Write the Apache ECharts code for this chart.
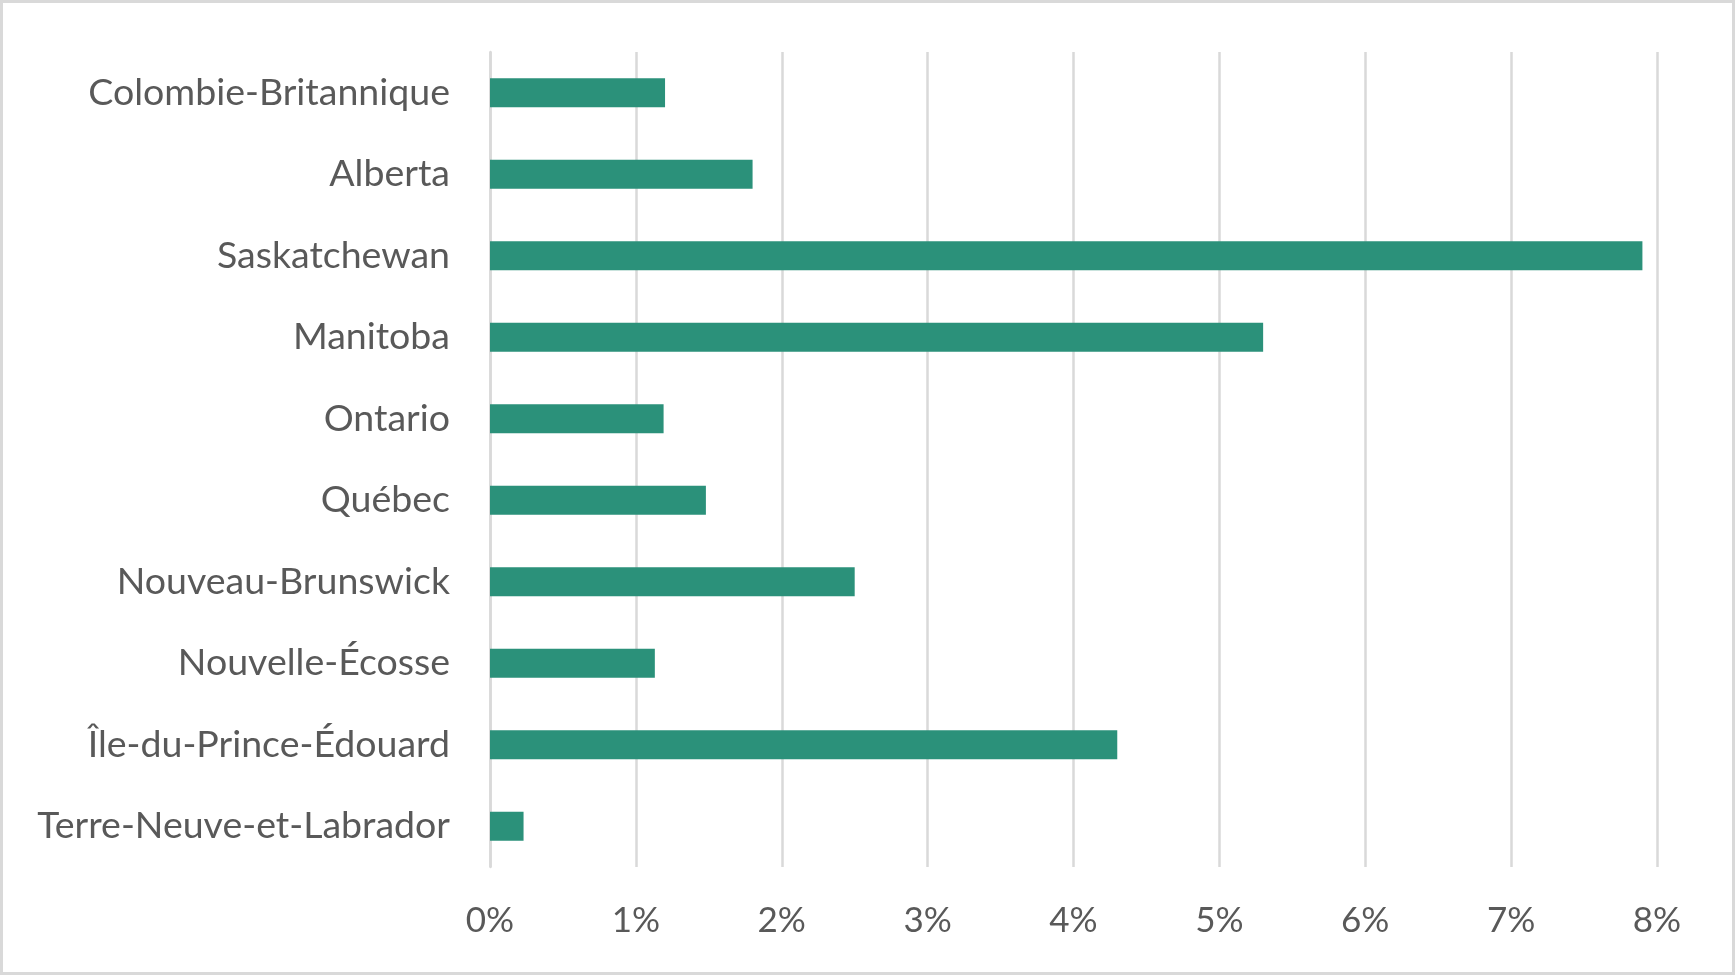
<!DOCTYPE html>
<html>
<head>
<meta charset="utf-8">
<script src="https://cdn.jsdelivr.net/npm/echarts@6/dist/echarts.min.js"></script>
<style>
html,body{margin:0;padding:0;background:#fff;}
#chart{width:1735px;height:975px;}
</style>
</head>
<body>
<div id="chart"></div>
<script>
const categories = [
  "Colombie-Britannique",
  "Alberta",
  "Saskatchewan",
  "Manitoba",
  "Ontario",
  "Québec",
  "Nouveau-Brunswick",
  "Nouvelle-Écosse",
  "Île-du-Prince-Édouard",
  "Terre-Neuve-et-Labrador"
];
const values = [1.2, 1.8, 7.9, 5.3, 1.19, 1.48, 2.5, 1.13, 4.3, 0.23];
const xTicks = { min: 0, max: 8, interval: 1 };

const chart = echarts.init(document.getElementById('chart'), null, {renderer: 'canvas'});
const FONT = 'Lato, "Open Sans", sans-serif';
chart.setOption({
  animation: false,
  backgroundColor: '#ffffff',
  graphic: [{
    type: 'rect',
    shape: {x: 1.5, y: 1.5, width: 1732, height: 972},
    style: {fill: 'none', stroke: '#d9d9d9', lineWidth: 3},
    silent: true
  }],
  grid: {left: 490, right: 78, top: 52, bottom: 108, containLabel: false},
  xAxis: {
    type: 'value',
    min: xTicks.min, max: xTicks.max, interval: xTicks.interval,
    axisLine: {show: false},
    axisTick: {show: false},
    splitLine: {show: true, lineStyle: {color: '#d9d9d9', width: 2.5}},
    axisLabel: {
      formatter: '{value}%',
      color: '#595959', fontFamily: FONT, fontSize: 35, margin: 36
    }
  },
  yAxis: {
    type: 'category',
    data: categories,
    inverse: true,
    axisLine: {show: true, lineStyle: {color: '#d9d9d9', width: 2.5}},
    axisTick: {show: false},
    axisLabel: {color: '#595959', fontFamily: FONT, fontSize: 37.5, margin: 40}
  },
  series: [{
    type: 'bar',
    data: values,
    barWidth: 29,
    itemStyle: {color: '#2b917a'}
  }]
});
</script>
</body>
</html>
